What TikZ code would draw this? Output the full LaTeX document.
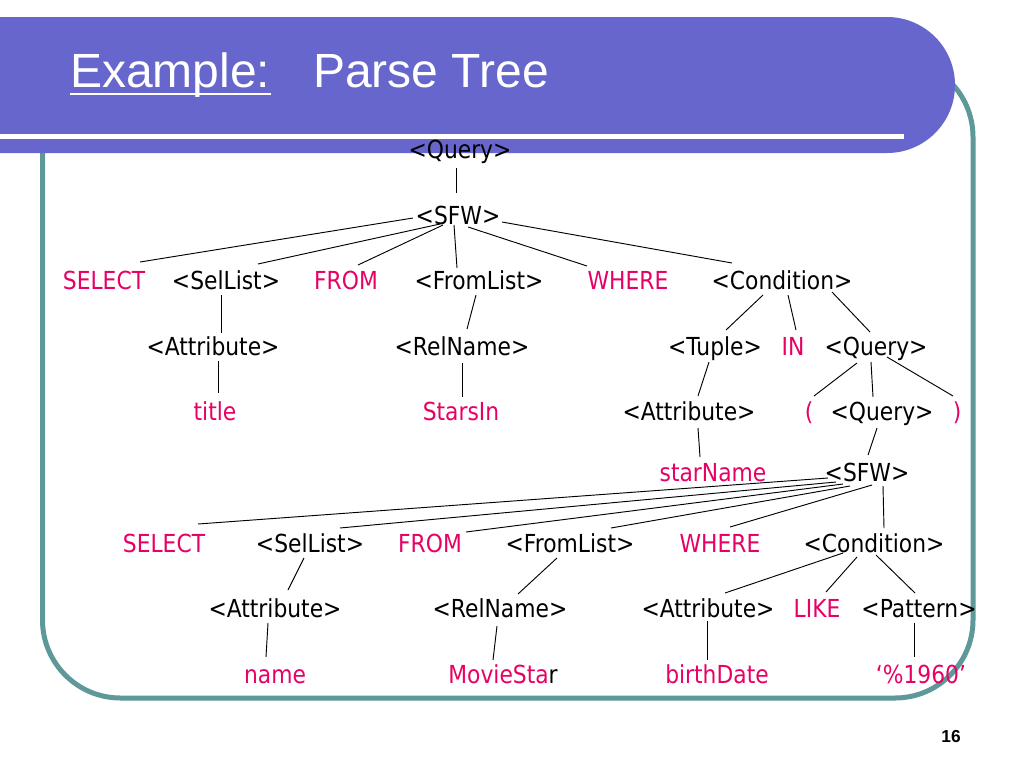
\documentclass[tikz,border=0pt]{standalone}
\usepackage{fontspec}
\setmainfont{Liberation Sans}
\newfontfamily\treefont{DejaVu Sans}[FakeStretch=0.88]
\definecolor{banner}{RGB}{102,102,204}
\definecolor{framec}{RGB}{95,152,152}
\definecolor{term}{RGB}{232,0,100}
\tikzset{
  nt/.style={anchor=base,inner sep=0pt,font=\treefont\fontsize{18.6}{21}\selectfont,text=black},
  tm/.style={nt,text=term},
  edge/.style={draw=black,line width=0.7pt},
}
\newcommand\tedge[6]{\draw[edge] ([shift={(#2,#3)}]#1.base) -- ([shift={(#5,#6)}]#4.base);}
\begin{document}
\begin{tikzpicture}[x=0.75pt,y=-0.75pt]
\useasboundingbox (0,0) rectangle (1024,768);
\fill[white] (0,0) rectangle (1024,768);
% frame
\draw[framec,line width=3.75pt,rounded corners=58.5pt] (42.5,59) rectangle (973,698);
% banner
\fill[banner,rounded corners=51pt] (-120,17) -- (955,17) -- (955,153) -- (-120,153) -- cycle;
\draw[white,line width=3.4pt] (-10,136.5) -- (904,136.5);
% title
\node[anchor=base west,inner sep=0pt,text=white,font=\fontsize{36}{40}\selectfont] (ex) at (70,87) {Example:};
\draw[white,line width=2pt] ([shift={(0,7)}]ex.base west) -- ([shift={(0,7)}]ex.base east);
\node[anchor=base west,inner sep=0pt,text=white,font=\fontsize{36}{40}\selectfont] (pt) at (313,87) {Parse Tree};
% page number
\node[anchor=base,inner sep=0pt,font=\bfseries\fontsize{13}{15}\selectfont] (pg) at (951,742) {16};
% tree nodes
\node[nt] (q0) at (460,158) {<Query>};
\node[nt] (s0) at (458,224) {<SFW>};
\node[tm] (sel1) at (104,289) {SELECT};
\node[nt] (sl1) at (226,289) {<SelList>};
\node[tm] (fr1) at (346,289) {FROM};
\node[nt] (fl1) at (479,289) {<FromList>};
\node[tm] (wh1) at (628,289) {WHERE};
\node[nt] (co1) at (782,289) {<Condition>};
\node[nt] (at1) at (213,355) {<Attribute>};
\node[nt] (rn1) at (462,355) {<RelName>};
\node[nt] (tu) at (715,355) {<Tuple>};
\node[tm] (in) at (793,355) {IN};
\node[nt] (q2) at (876,355) {<Query>};
\node[tm] (ti) at (215,420) {title};
\node[tm] (si) at (461,420) {StarsIn};
\node[nt] (at2) at (689,420) {<Attribute>};
\node[tm] (lp) at (809,420) {(};
\node[nt] (q3) at (882,420) {<Query>};
\node[tm] (rp) at (957,420) {)};
\node[tm] (sn) at (713,481) {starName};
\node[nt] (s2) at (867,481) {<SFW>};
\node[tm] (sel2) at (164,552) {SELECT};
\node[nt] (sl2) at (310,552) {<SelList>};
\node[tm] (fr2) at (430,552) {FROM};
\node[nt] (fl2) at (570,552) {<FromList>};
\node[tm] (wh2) at (720,552) {WHERE};
\node[nt] (co2) at (874,552) {<Condition>};
\node[nt] (at3) at (275,617) {<Attribute>};
\node[nt] (rn2) at (500,617) {<RelName>};
\node[nt] (at4) at (708,617) {<Attribute>};
\node[tm] (li) at (817,617) {LIKE};
\node[nt] (pa) at (919,617) {<Pattern>};
\node[tm] (nm) at (275,683) {name};
\node[tm] (ms) at (503,683) {MovieSta\textcolor{black}{r}};
\node[tm] (bd) at (717,683) {birthDate};
\node[tm] (pc) at (921,683) {‘\%1960’};
% edges
\tedge{q0}{-4}{10}{s0}{-2}{-31}
\tedge{s0}{-45}{-6}{sel1}{36}{-27}
\tedge{s0}{-18}{0}{sl1}{32}{-25}
\tedge{s0}{-15}{1}{fr1}{12}{-24}
\tedge{s0}{-4}{1}{fl1}{-22}{-21}
\tedge{s0}{10}{3}{wh1}{-41}{-23}
\tedge{s0}{44}{-2}{co1}{-50}{-26}
\tedge{sl1}{-5}{6}{at1}{8}{-22}
\tedge{fl1}{-3}{6}{rn1}{5}{-26}
\tedge{co1}{-19}{6}{tu}{11}{-25}
\tedge{co1}{6}{6}{in}{3}{-25}
\tedge{co1}{50}{3}{q2}{-6}{-23}
\tedge{at1}{5}{6}{ti}{3}{-27}
\tedge{rn1}{0}{8}{si}{1}{-23}
\tedge{tu}{-6}{7}{at2}{9}{-24}
\tedge{q2}{-19}{8}{lp}{5}{-24}
\tedge{q2}{-5}{7}{q3}{-9}{-23}
\tedge{q2}{11}{2}{rp}{-4}{-24}
\tedge{at2}{9}{8}{sn}{-13}{-24}
\tedge{q3}{-5}{8}{s2}{1}{-26}
\tedge{s2}{-39}{-3}{sel2}{34}{-28}
\tedge{s2}{-31}{1}{sl2}{30}{-24}
\tedge{s2}{-24}{3}{fr2}{36}{-20}
\tedge{s2}{-17}{5}{fl2}{41}{-24}
\tedge{s2}{5}{4}{wh2}{10}{-25}
\tedge{s2}{16}{5}{co2}{10}{-24}
\tedge{sl2}{-6}{6}{at3}{13}{-27}
\tedge{fl2}{-13}{6}{rn2}{18}{-23}
\tedge{co2}{-31}{1}{at4}{17}{-24}
\tedge{co2}{-17}{5}{li}{9}{-25}
\tedge{co2}{2}{3}{pa}{-4}{-24}
\tedge{at3}{-7}{6}{nm}{-9}{-26}
\tedge{rn2}{-3}{9}{ms}{-10}{-23}
\tedge{at4}{-1}{4}{bd}{-10}{-23}
\tedge{pa}{-5}{6}{pc}{-7}{-26}
\end{tikzpicture}
\end{document}
